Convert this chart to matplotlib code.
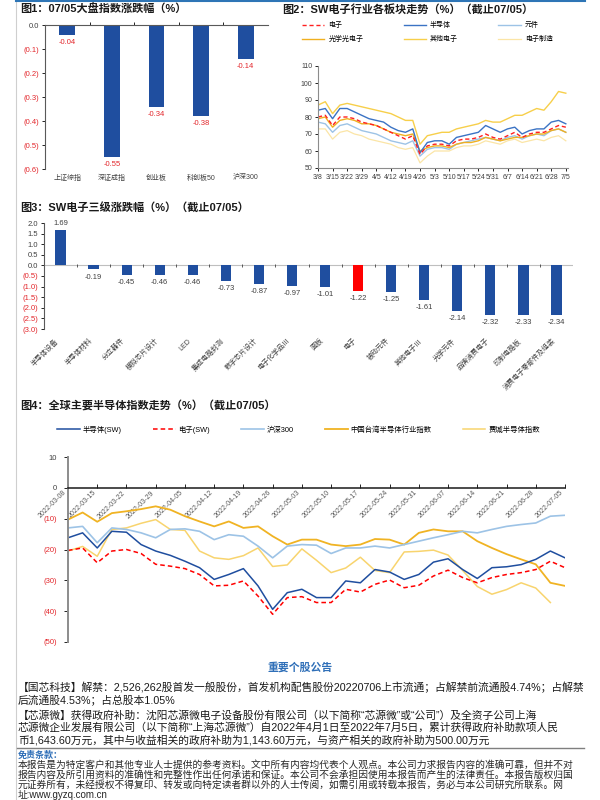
import numpy as np
import matplotlib.pyplot as plt

plt.rcParams['font.family'] = ['Liberation Sans', 'Noto Sans CJK SC', 'DejaVu Sans']
plt.rcParams['axes.unicode_minus'] = False

BLUE = '#1f4e9f'
NEG = '#e3262b'
GREY = '#404040'

# ---- 图1: 大盘指数涨跌幅
idx_names = ['上证综指', '深证成指', '创业板', '科创板50', '沪深300']
idx_chg = [-0.04, -0.55, -0.34, -0.38, -0.14]
idx_ticks = [0.0, -0.1, -0.2, -0.3, -0.4, -0.5, -0.6]

# ---- 图2: SW电子行业各板块走势 (two points per week, 3/8 .. 7/5)
sw_weeks = ['3/8', '3/15', '3/22', '3/29', '4/5', '4/12', '4/19', '4/26', '5/3',
            '5/10', '5/17', '5/24', '5/31', '6/7', '6/14', '6/21', '6/28', '7/5']
sw_dianzi = [80, 81, 75, 80, 80, 79, 77, 76, 75, 73, 71, 69, 67, 69, 58, 63, 64, 64,
             63, 66, 67, 67, 68, 70, 68, 67, 69, 71, 68, 70, 71, 71, 73, 75, 74]
sw_semi = [84, 85, 79, 85, 85, 83, 81, 79, 78, 77, 74, 72, 71, 73, 59, 65, 66, 66,
           64, 68, 69, 70, 71, 75, 73, 71, 73, 74, 70, 72, 73, 73, 77, 78, 76]
sw_comp = [77, 76, 71, 75, 76, 74, 72, 71, 70, 68, 66, 65, 64, 66, 57, 61, 62, 62,
           61, 64, 65, 66, 67, 68, 67, 66, 68, 69, 67, 69, 70, 69, 72, 73, 71]
sw_opto = [79, 80, 74, 78, 79, 78, 76, 76, 75, 73, 71, 70, 69, 70, 60, 62, 63, 63,
           62, 64, 65, 65, 66, 68, 67, 66, 67, 68, 68, 69, 70, 70, 72, 73, 71]
sw_other = [87, 89, 82, 87, 88, 87, 86, 85, 84, 83, 82, 80, 78, 78, 64, 69, 70, 71,
            71, 73, 74, 75, 76, 78, 77, 77, 79, 81, 81, 83, 85, 84, 89, 95, 94]
sw_manu = [73, 73, 67, 71, 72, 70, 69, 67, 66, 65, 64, 62, 61, 62, 53, 57, 60, 60,
           60, 62, 63, 63, 64, 66, 65, 64, 66, 67, 65, 66, 67, 66, 68, 69, 66]
sw_ticks = [50, 60, 70, 80, 90, 100, 110]

# ---- 图3: SW电子三级涨跌幅
sub_names = ['半导体设备', '半导体材料', '分立器件', '模拟芯片设计', 'LED', '集成电路封测',
             '数字芯片设计', '电子化学品Ⅲ', '面板', '电子', '被动元件', '其他电子Ⅲ',
             '光学元件', '品牌消费电子', '印制电路板', '消费电子零部件及组装']
sub_chg = [1.69, -0.19, -0.45, -0.46, -0.46, -0.73, -0.87, -0.97, -1.01, -1.22,
           -1.25, -1.61, -2.14, -2.32, -2.33, -2.34]
sub_ticks = [2.0, 1.5, 1.0, 0.5, 0.0, -0.5, -1.0, -1.5, -2.0, -2.5, -3.0]

# ---- 图4: 全球主要半导体指数走势 (two points per week)
gl_dates = ['2022-03-08', '2022-03-15', '2022-03-22', '2022-03-29', '2022-04-05',
            '2022-04-12', '2022-04-19', '2022-04-26', '2022-05-03', '2022-05-10',
            '2022-05-17', '2022-05-24', '2022-05-31', '2022-06-07', '2022-06-14',
            '2022-06-21', '2022-06-28', '2022-07-05']
gl_names = ['半导体(SW)', '电子(SW)', '沪深300', '中国台湾半导体行业指数', '费城半导体指数']
gl_semi = [-16.2, -14.6, -19.5, -14.1, -14.4, -18.4, -20.5, -21.9, -23.8, -25.9,
           -29.7, -28.1, -26.2, -31.8, -39.4, -34.0, -32.9, -35.6, -35.6, -30.2,
           -30.8, -26.5, -27.3, -29.7, -28.1, -24.1, -23.0, -26.5, -29.4, -25.9,
           -25.6, -24.9, -23.2, -20.5, -22.7]
gl_elec = [-20.3, -19.5, -24.3, -20.5, -20.0, -21.3, -24.8, -25.4, -26.2, -28.1,
           -31.8, -31.6, -30.2, -35.1, -41.0, -35.6, -35.3, -37.2, -37.2, -32.9,
           -33.8, -31.3, -29.9, -32.4, -31.6, -28.6, -26.7, -29.1, -30.8, -29.1,
           -28.1, -27.5, -26.5, -23.8, -25.9]
gl_hs300 = [-13.0, -12.5, -17.8, -13.0, -13.5, -14.6, -16.2, -13.5, -13.3, -14.1,
            -16.8, -15.2, -15.7, -18.9, -22.7, -18.9, -18.4, -18.6, -21.3, -19.5,
            -19.5, -18.9, -19.5, -18.4, -17.3, -16.2, -15.2, -14.1, -14.6, -13.5,
            -12.5, -11.9, -11.4, -9.2, -8.9]
gl_tw = [-10.3, -8.0, -11.0, -8.2, -7.6, -6.9, -6.0, -7.1, -9.2, -10.9,
         -12.5, -10.9, -13.0, -12.5, -15.7, -18.4, -16.8, -16.8, -18.4, -18.9,
         -18.4, -16.6, -16.8, -18.4, -14.6, -13.5, -14.1, -14.1, -17.3, -19.5,
         -21.5, -23.2, -24.8, -30.8, -31.8]
gl_sox = [-20.5, -19.0, -22.2, -13.5, -13.0, -11.5, -10.3, -13.5, -13.8, -20.5,
          -22.7, -23.2, -22.0, -19.5, -25.5, -25.0, -19.8, -23.5, -27.5, -26.0,
          -22.5, -26.8, -27.5, -20.8, -20.6, -20.2, -21.8, -26.8, -32.0, -34.5,
          -33.0, -30.8, -32.5, -37.2, np.nan]
gl_ticks = [10, 0, -10, -20, -30, -40, -50]

news_lines = [
    '【国芯科技】解禁：2,526,262股首发一般股份，首发机构配售股份20220706上市流通；占解禁前流通股4.74%；占解禁',
    '后流通股4.53%；占总股本1.05%',
    '【芯源微】获得政府补助：沈阳芯源微电子设备股份有限公司（以下简称“芯源微”或“公司”）及全资子公司上海',
    '芯源微企业发展有限公司（以下简称“上海芯源微”）自2022年4月1日至2022年7月5日，累计获得政府补助款项人民',
    '币1,643.60万元，其中与收益相关的政府补助为1,143.60万元，与资产相关的政府补助为500.00万元',
]
disclaimer_lines = [
    '本报告是为特定客户和其他专业人士提供的参考资料。文中所有内容均代表个人观点。本公司力求报告内容的准确可靠，但并不对',
    '报告内容及所引用资料的准确性和完整性作出任何承诺和保证。本公司不会承担因使用本报告而产生的法律责任。本报告版权归国',
    '元证券所有，未经授权不得复印、转发或向特定读者群以外的人士传阅，如需引用或转载本报告，务必与本公司研究所联系。网',
    '址:www.gyzq.com.cn',
]


def paren(v, d):
    return '(%.*f)' % (d, abs(v)) if v < 0 else '%.*f' % (d, v)


def color_ticks(ax, vals):
    for lab, v in zip(ax.get_yticklabels(), vals):
        lab.set_color(NEG if v < 0 else GREY)


fig = plt.figure(figsize=(6, 8), dpi=100)
W, H = 600.0, 800.0


def ax_px(x0, y0, x1, y1):
    return fig.add_axes([x0 / W, 1 - y1 / H, (x1 - x0) / W, (y1 - y0) / H])


def title(x, y, s):
    fig.text(x / W, 1 - y / H, s, fontsize=8, fontweight='bold', va='center', color='#1a1a1a')


# page frame
fig.add_artist(plt.Line2D([16 / W, 16 / W], [0, 1], color='#cfcfcf', lw=0.8))
fig.add_artist(plt.Line2D([16 / W, 585 / W], [1 - 1 / H, 1 - 1 / H], color='#2e75b6', lw=1.5))

# ---------------- 图1
title(20, 9, '图1：07/05大盘指数涨跌幅（%）')
ax1 = ax_px(45, 25, 268, 169)
xs = np.arange(len(idx_names))
ax1.bar(xs, idx_chg, width=0.35, color=BLUE)
ax1.set_xlim(-0.5, len(idx_names) - 0.5)
ax1.set_ylim(-0.6, 0)
for s in ['right', 'bottom']:
    ax1.spines[s].set_visible(False)
for s in ['top', 'left']:
    ax1.spines[s].set_color('#595959')
    ax1.spines[s].set_linewidth(0.8)
ax1.set_yticks(idx_ticks, [paren(v, 1) for v in idx_ticks])
color_ticks(ax1, idx_ticks)
ax1.set_xticks(xs, idx_names)
ax1.set_xticks(xs[:-1] + 0.5, minor=True)
ax1.tick_params(axis='x', which='major', length=0, pad=4, labelsize=5, labelcolor=GREY)
ax1.tick_params(axis='x', which='minor', top=True, bottom=False, length=2, width=0.6)
ax1.tick_params(axis='y', length=2, width=0.6, labelsize=5.5, pad=2)
for i, v in enumerate(idx_chg):
    ax1.annotate('%.2f' % v, (i, v), xytext=(0, -3), textcoords='offset points',
                 ha='center', va='top', fontsize=5.5, color=NEG)

# ---------------- 图2
title(282, 9, '图2：SW电子行业各板块走势（%）（截止07/05）')
ax2 = ax_px(318, 66, 568, 168)
x2 = np.arange(len(sw_dianzi)) / 2.0
l_manu, = ax2.plot(x2, sw_manu, color='#fbe5a6', lw=0.9)
l_other, = ax2.plot(x2, sw_other, color='#f7cf4a', lw=1.0)
l_comp, = ax2.plot(x2, sw_comp, color='#9dc3e6', lw=1.0)
l_opto, = ax2.plot(x2, sw_opto, color='#f0b020', lw=1.0)
l_semi, = ax2.plot(x2, sw_semi, color='#3b73c4', lw=1.0)
l_dz, = ax2.plot(x2, sw_dianzi, color='#ff2020', lw=1.0, dashes=(3, 2))
ax2.set_xlim(0, 17.15)
ax2.set_ylim(50, 110)
ax2.set_yticks(sw_ticks)
ax2.set_xticks(np.arange(len(sw_weeks)), sw_weeks)
for s in ['top', 'right']:
    ax2.spines[s].set_visible(False)
for s in ['left', 'bottom']:
    ax2.spines[s].set_color('#8c8c8c')
    ax2.spines[s].set_linewidth(0.8)
ax2.tick_params(length=2, width=0.6, labelsize=5, labelcolor=GREY, pad=2)
# legend is row-major in the reference, matplotlib fills column-first
ax2.legend([l_dz, l_opto, l_semi, l_other, l_comp, l_manu],
           ['电子', '光学光电子', '半导体', '其他电子', '元件', '电子制造'],
           ncol=3, loc='upper left', bbox_to_anchor=(302 / W, 1 - 22 / H),
           bbox_transform=fig.transFigure, frameon=False, fontsize=5,
           handlelength=3.2, handletextpad=0.6, columnspacing=5.8,
           borderpad=0, borderaxespad=0, labelspacing=1.0)

# ---------------- 图3
title(20, 207, '图3：SW电子三级涨跌幅（%）（截止07/05）')
ax3 = ax_px(44, 223, 573, 329)
xs3 = np.arange(len(sub_names))
cols = ['#ff0000' if n == '电子' else BLUE for n in sub_names]
ax3.bar(xs3, sub_chg, width=0.31, color=cols)
ax3.axhline(0, color='#bfbfbf', lw=0.8, zorder=0)
ax3.vlines(xs3[:-1] + 0.5, -0.07, 0.07, color='#404040', lw=0.6)
ax3.set_xlim(-0.5, len(sub_names) - 0.5)
ax3.set_ylim(-3.0, 2.0)
ax3.set_yticks(sub_ticks, [paren(v, 1) for v in sub_ticks])
color_ticks(ax3, sub_ticks)
for s in ['top', 'right', 'bottom']:
    ax3.spines[s].set_visible(False)
ax3.spines['left'].set_color('#595959')
ax3.spines['left'].set_linewidth(0.8)
ax3.set_xticks(xs3, sub_names, rotation=45, ha='right')
ax3.tick_params(axis='x', length=0, pad=6, labelsize=5, labelcolor=GREY)
ax3.tick_params(axis='y', length=2, width=0.6, labelsize=5.5, pad=2)
for i, v in enumerate(sub_chg):
    if v >= 0:
        ax3.annotate('%.2f' % v, (i, v), xytext=(0, 2), textcoords='offset points',
                     ha='center', va='bottom', fontsize=5.5, color=GREY)
    else:
        ax3.annotate('%.2f' % v, (i, v), xytext=(0, -3), textcoords='offset points',
                     ha='center', va='top', fontsize=5.5, color=GREY)

# ---------------- 图4
title(20, 405, '图4：全球主要半导体指数走势（%）（截止07/05）')
ax4 = ax_px(68, 457, 565, 642)
x4 = np.arange(len(gl_semi)) / 2.0
h_sox, = ax4.plot(x4, gl_sox, color='#f8d46e', lw=1.1)
h_tw, = ax4.plot(x4, gl_tw, color='#f0b323', lw=1.3)
h_hs, = ax4.plot(x4, gl_hs300, color='#9dc3e6', lw=1.2)
h_semi, = ax4.plot(x4, gl_semi, color=BLUE, lw=1.1)
h_el, = ax4.plot(x4, gl_elec, color='#ff0000', lw=1.1, dashes=(3, 2))
ax4.set_xlim(0, 17)
ax4.set_ylim(-50, 10)
ax4.set_yticks(gl_ticks, [paren(v, 0) for v in gl_ticks])
color_ticks(ax4, gl_ticks)
for s in ['top', 'right']:
    ax4.spines[s].set_visible(False)
ax4.spines['bottom'].set_position(('data', 0))
ax4.spines['bottom'].set_color('#1a1a1a')
ax4.spines['bottom'].set_linewidth(1.1)
ax4.spines['left'].set_color('#8c8c8c')
ax4.spines['left'].set_linewidth(1.4)
ax4.set_xticks(np.arange(len(gl_dates)), gl_dates, rotation=45, ha='right')
ax4.tick_params(axis='x', direction='in', length=3, width=0.6, pad=1,
                labelsize=5, labelcolor='#595959')
ax4.tick_params(axis='y', length=3, width=0.6, labelsize=5.5, pad=5)
ax4.legend([h_semi, h_el, h_hs, h_tw, h_sox], gl_names,
           ncol=5, loc='upper left', bbox_to_anchor=(57 / W, 1 - 426 / H),
           bbox_transform=fig.transFigure, frameon=False, fontsize=5.3,
           handlelength=3.1, handletextpad=0.4, columnspacing=4.2,
           borderpad=0, borderaxespad=0)

# ---------------- 个股公告 + 免责条款
fig.text(300 / W, 1 - 667 / H, '重要个股公告', fontsize=7.8, fontweight='bold',
         color='#2f6fb8', ha='center', va='center')
for line, y in zip(news_lines, [687, 701, 715, 728, 740]):
    fig.text(18 / W, 1 - y / H, line, fontsize=7.75, va='center', color='#1a1a1a')
fig.add_artist(plt.Line2D([17 / W, 584 / W], [1 - 748 / H, 1 - 748 / H], color='#7f7f7f', lw=1.0))
fig.text(18 / W, 1 - 755 / H, '免责条款：', fontsize=6.5, fontweight='bold',
         color='#2f6fb8', va='center')
for line, y in zip(disclaimer_lines, [765, 775, 785, 794.5]):
    fig.text(18 / W, 1 - y / H, line, fontsize=7.0, va='center', color='#262626')

fig.savefig('out.png', dpi=100)
